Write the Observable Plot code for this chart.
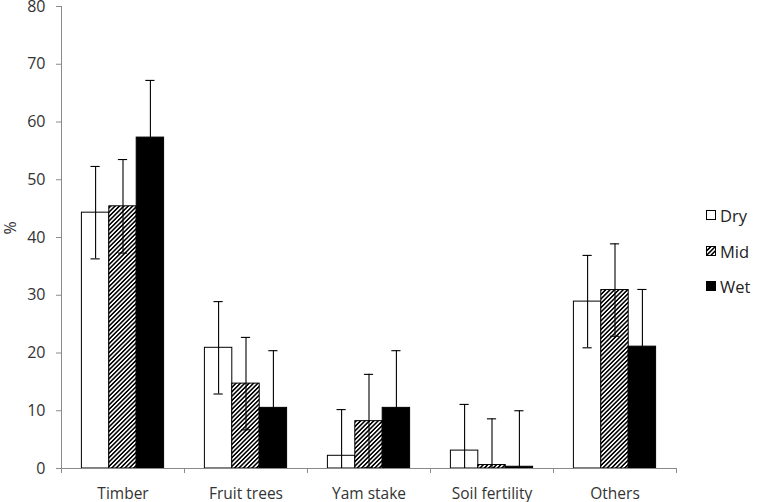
<!DOCTYPE html>
<html>
<head>
<meta charset="utf-8">
<script src="https://cdn.jsdelivr.net/npm/d3@7"></script>
<script src="https://cdn.jsdelivr.net/npm/@observablehq/plot@0.6"></script>
<style>
  html, body { margin: 0; padding: 0; background: #fff; }
  #wrap { position: relative; width: 757px; height: 502px; font-family: "Open Sans", sans-serif; }
  #legend { position: absolute; left: 706px; top: 0; }
  .item { position: absolute; left: 0; display: flex; align-items: center; white-space: nowrap; font-size: 16.5px; color: #222; }
  .item svg { margin-right: 3px; }
</style>
</head>
<body>
<svg width="0" height="0" style="position:absolute">
  <defs>
    <pattern id="hatch" patternUnits="userSpaceOnUse" width="3.1" height="3.1" patternTransform="rotate(45)">
      <rect x="0" y="0" width="3.1" height="3.1" fill="#fff"></rect>
      <rect x="0" y="0" width="1.6" height="3.1" fill="#000" shape-rendering="crispEdges"></rect>
    </pattern>
  </defs>
</svg>
<div id="wrap"><div id="legend"></div></div>
<script>
const categories = ["Timber", "Fruit trees", "Yam stake", "Soil fertility", "Others"];
const seriesNames = ["Dry", "Mid", "Wet"];
const dry    = [44.3, 20.9, 2.2, 3.1, 28.9];
const mid    = [45.4, 14.7, 8.2, 0.6, 30.9];
const wet    = [57.3, 10.5, 10.5, 0.3, 21.1];
const dryErr = [8.0, 8.0, 8.0, 8.0, 8.0];
const midErr = [8.1, 8.0, 8.1, 8.0, 8.0];
const wetErr = [9.9, 9.9, 9.9, 9.7, 9.9];
const yTicks = [0, 10, 20, 30, 40, 50, 60, 70, 80];

const values = [dry, mid, wet];
const errs = [dryErr, midErr, wetErr];
const fills = ["#fff", "url(#hatch)", "#000"];

const W = 757, H = 502;
const mL = 61, mR = 81, mT = 6, mB = 34;
const bw = (W - mL - mR) / categories.length;
const barW = 27.4;
const off = (bw - 3 * barW) / 2;
const capHalf = 4.6;
const pxPerUnit = (H - mT - mB) / 80;

const rows = seriesNames.map((s, si) => categories.map((c, ci) => ({
  cat: c, series: s, value: values[si][ci], err: errs[si][ci]
})));

const marks = [];
rows.forEach((data, i) => {
  marks.push(Plot.barY(data, {
    x: "cat", y: "value", fill: fills[i], stroke: "#000", strokeWidth: 1,
    insetLeft: off + i * barW, insetRight: bw - off - (i + 1) * barW
  }));
});
rows.forEach((data, i) => {
  const dx = off + i * barW + barW / 2 - bw / 2;
  const capL = off + i * barW + barW / 2 - capHalf;
  const capR = bw - (off + i * barW + barW / 2 + capHalf);
  marks.push(Plot.ruleX(data, {
    x: "cat", y1: d => Math.max(0, d.value - d.err), y2: d => d.value + d.err,
    dx, stroke: "#000", strokeWidth: 1.1
  }));
  marks.push(Plot.tickY(data, {
    x: "cat", y: d => d.value + d.err, stroke: "#000", strokeWidth: 1.1,
    insetLeft: capL, insetRight: capR
  }));
  marks.push(Plot.tickY(data.filter(d => d.value - d.err > 0), {
    x: "cat", y: d => d.value - d.err, stroke: "#000", strokeWidth: 1.1,
    insetLeft: capL, insetRight: capR
  }));
});

// axis lines and category boundary ticks
marks.push(Plot.ruleY([0], {stroke: "#8a8a8a", strokeWidth: 1}));
marks.push(Plot.ruleX([categories[0]], {x: d => d, dx: -bw / 2, y1: 0, y2: 80, stroke: "#8a8a8a"}));
marks.push(Plot.ruleX(categories, {x: d => d, dx: -bw / 2, y1: 0, y2: -5 / pxPerUnit, stroke: "#8a8a8a"}));
marks.push(Plot.ruleX([categories[categories.length - 1]], {x: d => d, dx: bw / 2, y1: 0, y2: -5 / pxPerUnit, stroke: "#8a8a8a"}));

const chart = Plot.plot({
  width: W, height: H,
  marginLeft: mL, marginRight: mR, marginTop: mT, marginBottom: mB,
  style: {fontFamily: "Open Sans, sans-serif", fontSize: "15px", color: "#333", background: "transparent", overflow: "visible"},
  x: {domain: categories, padding: 0, axis: null},
  y: {domain: [0, 80], axis: null},
  marks: [
    Plot.axisY({ticks: yTicks, tickSize: 5, tickPadding: 11, stroke: "#8a8a8a", fill: "#333", fontSize: 16, label: null}),
    Plot.axisX({tickSize: 0, tickPadding: 19, fill: "#333", fontSize: 15.5, label: null}),
    Plot.text(["%"], {frameAnchor: "left", dx: -51, rotate: -90, fontSize: 16, fill: "#333", dy: -3}),
    ...marks
  ]
});
chart.style.position = "absolute";
chart.style.left = "0";
chart.style.top = "0";
const wrap = document.getElementById("wrap");
wrap.insertBefore(chart, wrap.firstChild);

const legend = document.getElementById("legend");
const legendTops = [204, 239.5, 275];
seriesNames.forEach((s, i) => {
  const item = document.createElement("div");
  item.className = "item";
  item.style.top = legendTops[i] + "px";
  item.innerHTML = `<svg width="11" height="11"><rect x="0.5" y="0.5" width="9" height="9" fill="${fills[i]}" stroke="#000" stroke-width="1"></rect></svg><span>${s}</span>`;
  legend.appendChild(item);
});
</script>
</body>
</html>
